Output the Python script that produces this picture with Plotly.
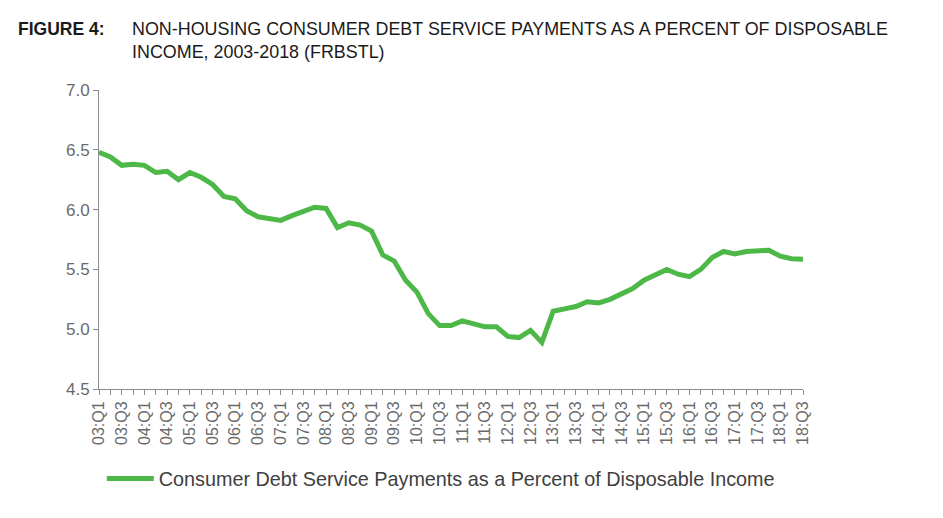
import plotly.graph_objects as go

quarters = [f"{y:02d}:Q{q}" for y in range(3, 19) for q in range(1, 5)][:63]
values = [6.48, 6.44, 6.37, 6.38, 6.37, 6.31, 6.32, 6.25, 6.31, 6.27,
          6.21, 6.11, 6.09, 5.99, 5.94, 5.92, 5.91, 5.95, 5.99, 6.02,
          6.01, 5.85, 5.89, 5.87, 5.82, 5.62, 5.57, 5.41, 5.31, 5.13,
          5.03, 5.03, 5.07, 5.05, 5.02, 5.02, 4.94, 4.93, 4.99, 4.89,
          5.15, 5.17, 5.19, 5.23, 5.22, 5.25, 5.29, 5.34, 5.41, 5.45,
          5.50, 5.46, 5.44, 5.50, 5.60, 5.65, 5.63, 5.65, 5.655, 5.66,
          5.61, 5.59, 5.585]
tick_labels = [q if i % 2 == 0 else "" for i, q in enumerate(quarters)]
series_name = "Consumer Debt Service Payments as a Percent of Disposable Income"

fig = go.Figure()
fig.add_trace(go.Scatter(
    x=list(range(len(values))), y=values, mode="lines", name=series_name,
    line=dict(color="#4DB848", width=5), showlegend=True))

fig.update_layout(
    width=943, height=518,
    margin=dict(l=91, r=148, t=82, b=137),
    paper_bgcolor="white", plot_bgcolor="white",
    font=dict(family="Liberation Sans, Arial, sans-serif", color="#6a6a6a"),
    xaxis=dict(
        range=[0, len(values) - 1], tickmode="array",
        tickvals=list(range(len(values))), ticktext=tick_labels,
        tickangle=-90, ticks="outside", ticklen=5, tickcolor="#8c8c8c",
        showline=True, linecolor="#8c8c8c", linewidth=1, showgrid=False,
        zeroline=False, tickfont=dict(size=16, color="#6a6a6a")),
    yaxis=dict(
        range=[4.5, 7.0], dtick=0.5, tickformat=".1f",
        ticks="outside", ticklen=5, tickcolor="#8c8c8c",
        showline=True, linecolor="#8c8c8c", linewidth=1, showgrid=False,
        zeroline=False, tickfont=dict(size=17, color="#6a6a6a")),
    legend=dict(orientation="h", x=0.004, xanchor="left", y=-0.30, yanchor="middle",
                itemwidth=47,
                font=dict(size=19.8, color="#404040"), bgcolor="rgba(0,0,0,0)"),
    annotations=[
        dict(text="<b>FIGURE 4:</b>", xref="paper", yref="paper",
             x=-0.118, y=1.245, xanchor="left", yanchor="top", showarrow=False,
             font=dict(size=17.5, color="#1a1a1a"), align="left"),
        dict(text="NON-HOUSING CONSUMER DEBT SERVICE PAYMENTS AS A PERCENT OF DISPOSABLE<br>INCOME, 2003-2018 (FRBSTL)",
             xref="paper", yref="paper", x=0.044, y=1.245, xanchor="left", yanchor="top",
             showarrow=False, font=dict(size=17.9, color="#1a1a1a"), align="left"),
    ],
)

fig.write_html("out.html")
